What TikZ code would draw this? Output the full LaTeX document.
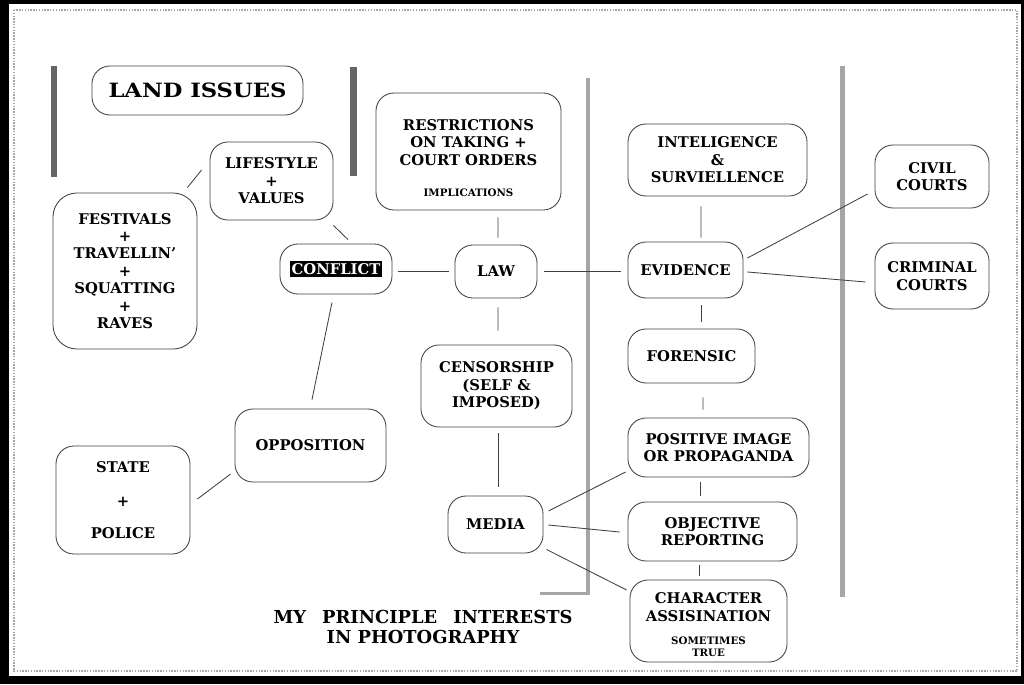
\documentclass[tikz,border=0pt]{standalone}
\usepackage{fontspec}
\setmainfont{DejaVu Serif}
\newfontfamily\widef{DejaVu Serif}[FakeStretch=1.15]
\usetikzlibrary{calc}
\newcommand\nfont{\bfseries\fontsize{10.5}{12.4}\selectfont}
\newcommand\tinyf{\bfseries\fontsize{7.3}{12.4}\selectfont}
\setlength{\fboxsep}{1.5pt}
\begin{document}
\begin{tikzpicture}[x=0.025cm,y=-0.025cm,
  box/.style={draw=black!75, line width=0.6pt, rounded corners=0.45cm, inner sep=0pt, align=center, font=\nfont},
  conn/.style={draw=black!75, line width=0.6pt},
  darkbar/.style={fill=black!60},
  lightbar/.style={fill=black!35}]
\useasboundingbox (0,0) rectangle (1024,684);
\fill[black] (0,0) rectangle (1024,684);
\fill[white] (9,4) rectangle (1021,676);
\draw[black!35, densely dotted, line width=1pt] (14,10) rectangle (1017,671);

% bars
\fill[darkbar] (51,66) rectangle (57,177);
\fill[darkbar] (350,67) rectangle (357,176);
\fill[lightbar] (586,78) rectangle (590,595);
\fill[lightbar] (540,592) rectangle (590,595);
\fill[lightbar] (840,66) rectangle (845,597);

% nodes
\node[box, minimum width=5.275cm, minimum height=1.225cm] (land) at (197.5,90.5) {\widef\bfseries\fontsize{14}{16}\selectfont LAND ISSUES};
\node[box, minimum width=3.075cm, minimum height=1.95cm] (life) at (271.5,181) {LIFESTYLE\\+\\VALUES};
\node[box, rounded corners=0.6cm, minimum width=3.6cm, minimum height=3.9cm] (fest) at (125,271) {FESTIVALS\\+\\TRAVELLIN'\\+\\SQUATTING\\+\\RAVES};
\node[box, minimum width=2.8cm, minimum height=1.25cm] (conf) at (336,269) {\colorbox{black}{\color{white}CONFLICT}};
\node[box, minimum width=2.05cm, minimum height=1.325cm] (law) at (496,271.5) {LAW};
\node[box, minimum width=4.625cm, minimum height=2.925cm] (restr) at (468.5,151.5) {\rule{0pt}{17pt}RESTRICTIONS\\ON TAKING +\\COURT ORDERS\\[9.5pt]\tinyf IMPLICATIONS};
\node[box, minimum width=4.475cm, minimum height=1.8cm] (intel) at (717.5,160) {INTELIGENCE\\\&\\SURVIELLENCE};
\node[box, minimum width=2.875cm, minimum height=1.4cm] (ev) at (685.5,270) {EVIDENCE};
\node[box, minimum width=2.85cm, minimum height=1.575cm] (civil) at (932,176.5) {CIVIL\\COURTS};
\node[box, minimum width=2.85cm, minimum height=1.65cm] (crim) at (932,276) {CRIMINAL\\COURTS};
\node[box, minimum width=3.175cm, minimum height=1.35cm] (foren) at (691.5,356) {FORENSIC};
\node[box, minimum width=4.525cm, minimum height=1.475cm] (pos) at (718.5,447.5) {POSITIVE IMAGE\\OR PROPAGANDA};
\node[box, minimum width=4.225cm, minimum height=1.475cm] (obj) at (712.5,531.5) {OBJECTIVE\\REPORTING};
\node[box, minimum width=3.925cm, minimum height=2.05cm] (char) at (708.5,621) {\rule{0pt}{13pt}CHARACTER\\ASSISINATION\\[4.5pt]\tinyf SOMETIMES\\[-4pt]\tinyf TRUE};
\node[box, minimum width=2.375cm, minimum height=1.425cm] (media) at (495.5,524.5) {MEDIA};
\node[box, minimum width=3.775cm, minimum height=2.05cm] (cens) at (496.5,386) {CENSORSHIP\\(SELF \&\\IMPOSED)};
\node[box, minimum width=3.775cm, minimum height=1.825cm] (opp) at (310.5,445.5) {OPPOSITION};
\node[box, minimum width=3.35cm, minimum height=2.7cm] (state) at (123,500) {STATE\\[12pt]+\\[10pt]POLICE};

\node[align=center, inner sep=0pt, font=\bfseries\fontsize{12.7}{14.2}\selectfont] (title) at (423,627)
  {MY\hspace{0.9em}PRINCIPLE\hspace{0.9em}INTERESTS\\IN PHOTOGRAPHY};

% connectors
\draw[conn] ($(fest.north east)+(-10,-5)$) -- ($(life.west)+(-8,-11)$);
\draw[conn] ($(life.south east)+(0,5)$) -- ($(conf.north)+(12,-4)$);
\draw[conn] ($(conf.east)+(6,2)$) -- ($(law.west)+(-6,-0.5)$);
\draw[conn] ($(restr.south)+(29.5,7)$) -- ($(law.north)+(2,-7)$);
\draw[conn] ($(law.east)+(7,-0.5)$) -- ($(ev.west)+(-7,1)$);
\draw[conn] ($(intel.south)+(-16.5,10)$) -- ($(ev.north)+(15.5,-4)$);
\draw[conn] ($(ev.east)+(4,-12)$) -- ($(civil.west)+(-7,17.5)$);
\draw[conn] ($(ev.east)+(4,2)$) -- ($(crim.west)+(-9,6)$);
\draw[conn] ($(ev.south)+(15.5,7)$) -- ($(foren.north)+(9.5,-7)$);
\draw[conn] ($(foren.south)+(11.5,14)$) -- ($(pos.north)+(-15.5,-8)$);
\draw[conn] ($(pos.south)+(-18.5,5)$) -- ($(obj.north)+(-12.5,-6)$);
\draw[conn] ($(obj.south)+(-13.5,4)$) -- ($(char.north)+(-9.5,-4)$);
\draw[conn] ($(law.south)+(2,9)$) -- ($(cens.north)+(1.5,-14)$);
\draw[conn] ($(cens.south)+(1.5,6)$) -- ($(media.north)+(2.5,-9)$);
\draw[conn] ($(media.east)+(5,-13.5)$) -- ($(pos.west)+(-2,24.5)$);
\draw[conn] ($(media.east)+(5,0.5)$) -- ($(obj.west)+(-8,0.5)$);
\draw[conn] ($(media.south east)+(3,-4)$) -- ($(char.west)+(-3,-31)$);
\draw[conn] ($(conf.south)+(-4,8)$) -- ($(opp.north)+(1.5,-9)$);
\draw[conn] ($(state.east)+(7,-1)$) -- ($(opp.west)+(-4,28.5)$);
\end{tikzpicture}
\end{document}
